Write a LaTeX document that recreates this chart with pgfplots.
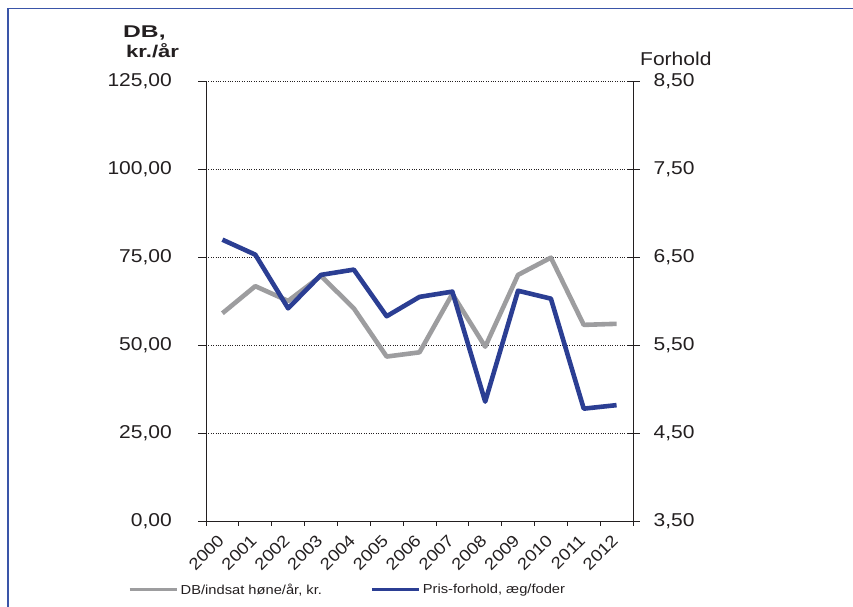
\documentclass[border=0pt]{standalone}
\usepackage{fontspec}
\setmainfont[FakeStretch=1.13]{Liberation Sans}
\newfontfamily\titlefont[FakeStretch=1.45]{Liberation Sans}
\newfontfamily\titlefontb[FakeStretch=1.3]{Liberation Sans}
\usepackage{pgfplots}
\usepackage{pgfplotstable}
\pgfplotsset{compat=1.18}
\definecolor{dbgray}{HTML}{9D9D9F}
\definecolor{prisblue}{HTML}{2B3E93}
\definecolor{framebl}{HTML}{3A55A8}
\definecolor{txt}{HTML}{231F20}

\pgfplotstableread{
x db
0.5 59.1
1.5 66.8
2.5 62.6
3.5 69.7
4.5 60.5
5.5 46.8
6.5 48.0
7.5 64.6
8.5 49.6
9.5 70.0
10.5 74.9
11.5 55.8
12.5 56.1
}\dbdata
\pgfplotstableread{
x pris
0.5 6.70
1.5 6.53
2.5 5.92
3.5 6.30
4.5 6.36
5.5 5.83
6.5 6.05
7.5 6.11
8.5 4.86
9.5 6.12
10.5 6.03
11.5 4.78
12.5 4.82
}\prisdata

\begin{document}
\begin{tikzpicture}[x=1bp,y=1bp]
\useasboundingbox (0,0) rectangle (853,607);
\draw[framebl, line width=1.6bp] (8,0) -- (8,598.3) -- (853,598.3);

\begin{axis}[
  at={(206bp,85.7bp)}, anchor=south west,
  scale only axis, width=427bp, height=440bp,
  xmin=0, xmax=13, ymin=0, ymax=125,
  axis x line*=bottom, axis y line*=left,
  axis line style={-, line width=1bp, txt},
  ytick={0,25,50,75,100,125},
  xtick={0.5,1.5,2.5,3.5,4.5,5.5,6.5,7.5,8.5,9.5,10.5,11.5,12.5},
  xticklabels={2000,2001,2002,2003,2004,2005,2006,2007,2008,2009,2010,2011,2012},
  minor xtick={0,1,...,13},
  major x tick style={draw=none},
  xticklabel style={rotate=45, anchor=north east, inner sep=0pt, xshift=-6.8bp, yshift=1.2bp,
     font=\fontsize{16.5bp}{18bp}\selectfont},
  ymajorgrids, grid style={txt, dotted, line width=0.6bp},
  tick align=outside,
  major tick length=8bp, minor tick length=4.5bp,
  tick style={line width=0.8bp, txt},
  yticklabel style={anchor=east, inner sep=0pt, xshift=-26bp, font=\fontsize{18.6bp}{20bp}\selectfont, text=txt},
  xticklabel style={text=txt},
  /pgf/number format/.cd, fixed, fixed zerofill, precision=2, use comma, assume math mode=true,
]
\addplot[dbgray, line width=4.6bp, line join=round] table[x=x,y=db] {\dbdata};
\end{axis}

\begin{axis}[
  at={(206bp,85.7bp)}, anchor=south west,
  scale only axis, width=427bp, height=440bp,
  xmin=0, xmax=13, ymin=3.5, ymax=8.5,
  axis y line*=right, axis x line=none,
  axis line style={-, line width=1bp, txt},
  ytick={3.5,4.5,5.5,6.5,7.5,8.5},
  tick align=center,
  tick style={line width=0.8bp, txt},
  major tick length=13bp,
  tick label style={font=\fontsize{18.6bp}{20bp}\selectfont, text=txt},
  yticklabel style={anchor=west, inner sep=0pt, xshift=14bp},
  /pgf/number format/.cd, fixed, fixed zerofill, precision=2, use comma, assume math mode=true,
  /pgfplots/.cd,
  legend style={at={(-0.1827,-0.156)}, anchor=west, draw=none, fill=none,
     inner sep=0pt, font=\fontsize{13bp}{15bp}\selectfont, text=txt,
     legend columns=2, nodes={inner sep=2.5bp},
     /tikz/every even column/.append style={column sep=46bp}},
  legend cell align=left,
  legend image code/.code={\draw[#1, line width=3bp] (0bp,0bp) -- (47bp,0bp);},
]
\addlegendimage{dbgray, line width=4.6bp}
\addlegendentry{DB/indsat høne/år, kr.}
\addplot[prisblue, line width=4.6bp, line join=round] table[x=x,y=pris] {\prisdata};
\addlegendentry{Pris-forhold, æg/foder}
\end{axis}

\node[anchor=west, inner sep=0pt, text=txt, font=\titlefont\bfseries\fontsize{17bp}{19bp}\selectfont] at (123,574) {DB,};
\node[anchor=west, inner sep=0pt, text=txt, font=\titlefontb\bfseries\fontsize{17bp}{19bp}\selectfont] at (126,556) {kr./år};
\node[anchor=west, inner sep=0pt, text=txt, font=\fontsize{18.6bp}{20bp}\selectfont] at (640,548) {Forhold};
\end{tikzpicture}
\end{document}
